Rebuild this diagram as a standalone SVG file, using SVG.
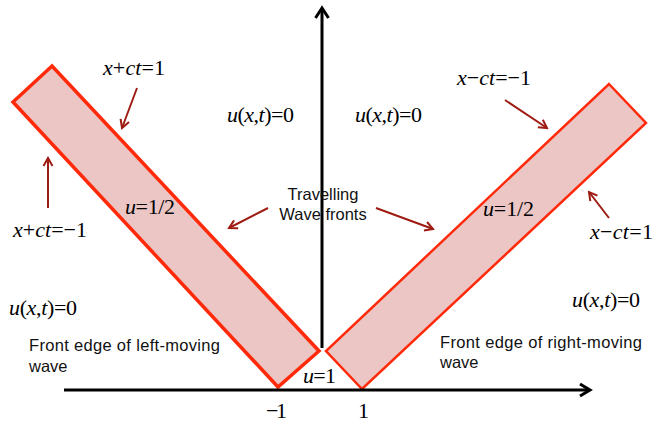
<svg xmlns="http://www.w3.org/2000/svg" width="654" height="422" viewBox="0 0 654 422">
<style>
.band{fill:#ECC5C5;stroke:#FF2A0A;stroke-linejoin:miter}
.axis{stroke:#000;stroke-width:3;fill:none}
.ptr{stroke:#9E1B12;stroke-width:2;fill:none;marker-end:url(#ah)}
.m{font-family:"Liberation Serif","Times New Roman",serif;font-size:22px;fill:#000}
.i{font-style:italic}
.lbl{font-family:"Liberation Sans",Arial,sans-serif;font-size:16.5px;fill:#111}
</style>
<defs>
<marker id="ah" viewBox="0 0 12 12" refX="10" refY="6" markerWidth="12" markerHeight="12" markerUnits="userSpaceOnUse" orient="auto">
<polyline points="2,1.5 10,6 2,10.5" fill="none" stroke="#9E1B12" stroke-width="2"/>
</marker>
</defs>
<rect width="654" height="422" fill="#fff"/>
<g id="bands">
<g id="left-band"><polygon class="band" stroke-width="3.5" points="52,66 13,102 278,387 319,351"/></g>
<g id="right-band"><polygon class="band" stroke-width="2.5" points="609,84 646,123 362,389 326,351"/></g>
</g>
<g id="axes">
<line class="axis" x1="322" y1="348" x2="322" y2="9"/>
<polyline class="axis" points="315.5,18 322,8 328.5,18"/>
<line class="axis" x1="64" y1="390" x2="589" y2="390"/>
<polyline class="axis" points="580,384 590,390 580,396"/>
</g>
<g id="connectors">
<line class="ptr" x1="137" y1="88" x2="122" y2="128"/>
<line class="ptr" x1="48" y1="208" x2="48" y2="158"/>
<line class="ptr" x1="505" y1="100" x2="547" y2="128"/>
<line class="ptr" x1="609" y1="218" x2="589" y2="192"/>
<line class="ptr" x1="268" y1="208" x2="229" y2="228"/>
<line class="ptr" x1="376" y1="208" x2="433" y2="229"/>
</g>
<g id="math-labels">
<text class="m" x="103" y="75" textLength="62"><tspan class="i">x</tspan>+<tspan class="i">ct</tspan>=1</text>
<text class="m" x="227" y="122" textLength="67"><tspan class="i">u</tspan>(<tspan class="i">x</tspan>,<tspan class="i">t</tspan>)=0</text>
<text class="m" x="355" y="122" textLength="67"><tspan class="i">u</tspan>(<tspan class="i">x</tspan>,<tspan class="i">t</tspan>)=0</text>
<text class="m" x="457" y="85" textLength="74"><tspan class="i">x</tspan>−<tspan class="i">ct</tspan>=−1</text>
<text class="m" x="13" y="237" textLength="74"><tspan class="i">x</tspan>+<tspan class="i">ct</tspan>=−1</text>
<text class="m" x="125" y="214" textLength="50"><tspan class="i">u</tspan>=1/2</text>
<text class="m" x="483" y="216" textLength="51"><tspan class="i">u</tspan>=1/2</text>
<text class="m" x="590" y="239" textLength="63"><tspan class="i">x</tspan>−<tspan class="i">ct</tspan>=1</text>
<text class="m" x="9" y="315" textLength="68"><tspan class="i">u</tspan>(<tspan class="i">x</tspan>,<tspan class="i">t</tspan>)=0</text>
<text class="m" x="572" y="307" textLength="68"><tspan class="i">u</tspan>(<tspan class="i">x</tspan>,<tspan class="i">t</tspan>)=0</text>
<text class="m" x="303" y="383" textLength="33"><tspan class="i">u</tspan>=1</text>
<text class="m" x="266" y="418" textLength="21">−1</text>
<text class="m" x="358" y="418">1</text>
</g>
<g id="text-labels">
<text class="lbl" x="323" y="200" text-anchor="middle">Travelling</text>
<text class="lbl" x="323" y="220" text-anchor="middle">Wave fronts</text>
<text class="lbl" x="29" y="351" textLength="191">Front edge of left-moving</text>
<text class="lbl" x="29" y="372">wave</text>
<text class="lbl" x="440" y="348" textLength="202">Front edge of right-moving</text>
<text class="lbl" x="440" y="368">wave</text>
</g>
</svg>
